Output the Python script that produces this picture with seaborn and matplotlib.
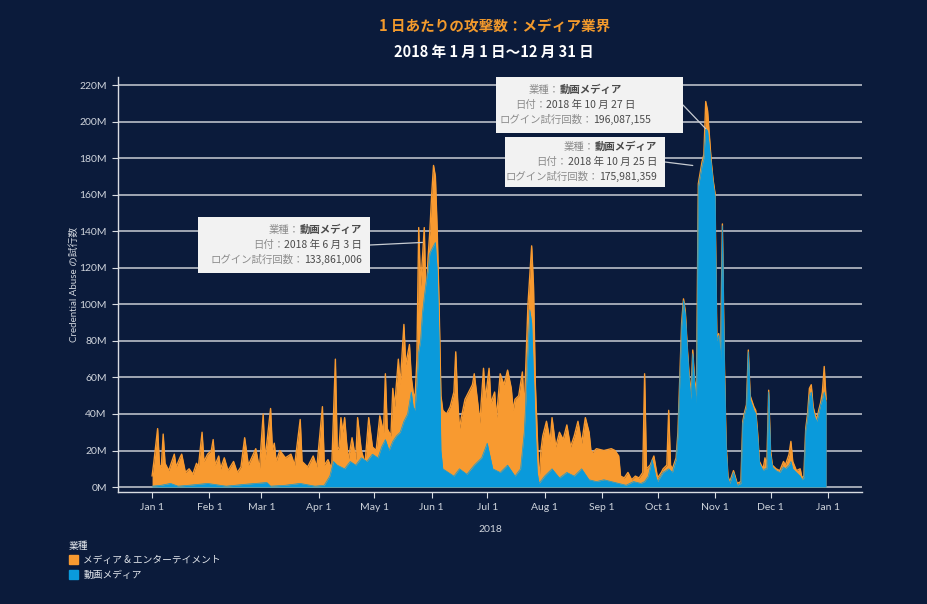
import numpy as np
import pandas as pd
import matplotlib
matplotlib.use('Agg')
import matplotlib.pyplot as plt
import matplotlib.dates as mdates
import matplotlib.ticker as mticker
from matplotlib.patches import Patch, Rectangle
from matplotlib.offsetbox import TextArea, HPacker, VPacker, AnnotationBbox
import seaborn as sns

# --- textos ---
title = '1 日あたりの攻撃数：メディア業界'
subtitle = '2018 年 1 月 1 日～12 月 31 日'
series_names = ['メディア & エンターテイメント', '動画メディア']
legend_title = '業種'
ylabel = 'Credential Abuse の試行数'
xlabel = '2018'

# --- datos (dia del año desde 2018-01-01, millones de intentos) ---
media_day = [0, 1, 3, 4, 5, 6, 7, 9, 10, 12, 13, 15, 16, 18, 20, 22, 24, 25, 27, 28,
             30, 32, 33, 34, 36, 37, 39, 41, 44, 46, 48, 50, 52, 56, 58, 60, 61, 64, 65, 66,
             67, 69, 72, 75, 77, 80, 81, 84, 87, 89, 92, 93, 95, 97, 99, 100, 101, 102, 103, 104,
             105, 106, 108, 110, 111, 113, 115, 117, 119, 121, 123, 125, 126, 127, 129, 130, 131, 133, 134, 136,
             137, 139, 140, 141, 142, 143, 144, 145, 146, 147, 148, 149, 150, 151, 152, 153, 154, 155, 156, 157,
             159, 161, 163, 164, 165, 166, 167, 169, 171, 173, 174, 176, 177, 179, 180, 182, 183, 185, 186, 188,
             190, 192, 194, 195, 196, 198, 200, 201, 203, 205, 206, 207, 208, 209, 210, 211, 213, 215, 216, 218,
             220, 222, 224, 226, 228, 230, 232, 234, 236, 237, 238, 240, 244, 248, 250, 252, 253, 255, 257, 259,
             261, 263, 265, 266, 267, 269, 271, 273, 275, 276, 278, 279, 280, 281, 283, 284, 285, 286, 287, 288,
             289, 290, 291, 292, 293, 294, 295, 296, 297, 298, 299, 300, 301, 302, 303, 304, 305, 306, 307, 308,
             309, 310, 311, 312, 314, 316, 318, 319, 320, 321, 322, 323, 325, 326, 327, 328, 330, 331, 332, 333,
             334, 335, 337, 339, 341, 342, 344, 345, 346, 348, 350, 351, 352, 353, 354, 355, 356, 357, 358, 359,
             360, 361, 362, 363, 364]
media_val = [6, 14, 32, 12, 11, 29, 13, 9, 12, 18, 11, 16, 18, 8, 10, 7, 13, 11, 30, 14,
             18, 20, 26, 12, 17, 10, 16, 9, 14, 8, 11, 27, 12, 21, 10, 40, 15, 43, 20, 24,
             14, 20, 16, 18, 12, 37, 14, 11, 17, 11, 44, 12, 15, 10, 70, 20, 22, 38, 30, 38,
             25, 15, 27, 15, 38, 20, 13, 38, 22, 20, 39, 30, 62, 32, 28, 54, 44, 70, 56, 89,
             67, 78, 60, 52, 48, 70, 142, 110, 125, 142, 100, 125, 140, 160, 176, 170, 140, 100, 50, 42,
             40, 44, 52, 74, 48, 32, 38, 48, 52, 56, 62, 45, 35, 65, 48, 65, 46, 52, 38, 62,
             56, 64, 54, 42, 48, 50, 63, 42, 100, 132, 110, 56, 30, 3, 20, 28, 36, 25, 38, 22,
             30, 26, 34, 22, 28, 36, 24, 38, 30, 20, 19, 21, 20, 21, 20, 17, 6, 5, 8, 4,
             6, 5, 8, 62, 10, 12, 17, 5, 8, 10, 12, 42, 12, 10, 16, 30, 60, 90, 103, 96,
             77, 62, 50, 75, 58, 52, 166, 172, 178, 182, 211, 206, 192, 178, 168, 161, 82, 84, 72, 144,
             72, 24, 6, 3, 9, 2, 3, 36, 41, 45, 75, 50, 44, 42, 30, 14, 10, 16, 12, 53,
             20, 12, 10, 9, 14, 12, 18, 25, 14, 9, 10, 5, 6, 32, 40, 54, 56, 44, 40, 37,
             42, 46, 52, 66, 48]

video_day = [0, 5, 10, 14, 20, 30, 40, 50, 62, 64, 72, 80, 88, 93, 96, 98, 100, 104, 107, 110,
             113, 116, 119, 122, 124, 126, 128, 130, 132, 134, 136, 138, 140, 141, 142, 143, 144, 145, 146, 147,
             148, 149, 150, 151, 152, 153, 154, 155, 156, 157, 160, 163, 166, 170, 174, 178, 181, 184, 188, 192,
             196, 199, 201, 202, 203, 204, 205, 206, 207, 208, 209, 212, 216, 220, 224, 228, 232, 236, 240, 244,
             248, 252, 256, 260, 264, 266, 268, 270, 272, 273, 276, 279, 281, 283, 284, 285, 286, 287, 288, 289,
             290, 291, 292, 293, 294, 295, 296, 297, 298, 299, 300, 301, 302, 303, 304, 305, 306, 307, 308, 309,
             310, 311, 312, 314, 316, 318, 319, 320, 321, 322, 323, 325, 326, 327, 328, 330, 331, 332, 333, 334,
             335, 337, 339, 341, 342, 344, 345, 346, 348, 350, 351, 352, 353, 354, 355, 356, 357, 358, 359, 360,
             361, 362, 363, 364]
video_val = [0.5, 1, 2, 0.5, 1, 2, 0.5, 1.5, 2.5, 0.5, 1, 2, 0.5, 1, 6, 14, 12, 10, 14, 12,
             16, 14, 18, 16, 22, 26, 20, 25, 28, 30, 36, 40, 52, 44, 42, 56, 74, 80, 95, 104,
             112, 118, 128, 130, 132, 133.86, 118, 80, 20, 10, 8, 6, 10, 7, 12, 16, 24, 10, 8, 12,
             6, 10, 30, 50, 75, 97, 90, 60, 30, 8, 2, 6, 10, 5, 8, 6, 10, 4, 3, 4,
             3, 2, 1, 3, 2, 3, 6, 15, 6, 3, 8, 10, 8, 15, 28, 58, 88, 102, 94, 76,
             60, 48, 73, 56, 46, 164, 170, 175.98, 180, 196.09, 195, 186, 176, 166, 159, 80, 83, 70, 143, 70,
             22, 5, 2, 8, 1, 2, 35, 40, 44, 74, 48, 42, 40, 28, 13, 9, 10, 10, 52, 18,
             11, 9, 8, 11, 10, 12, 14, 10, 8, 6, 4, 5, 31, 38, 50, 52, 42, 38, 36, 40,
             45, 48, 52, 46]

# --- anotaciones ---
callouts = [
    ('2018 年 6 月 3 日', '133,861,006', 146, 133.861006, 'right'),
    ('2018 年 10 月 27 日', '196,087,155', 299, 196.087155, 'center'),
    ('2018 年 10 月 25 日', '175,981,359', 292, 175.981359, 'right'),
]

ORANGE = '#F89A30'
BLUE = '#0A9ADB'
BG = '#0B1B3B'
GRID = '#c9cdd4'
TXT = '#cfd4dc'

W, H = 928, 604
base = pd.Timestamp('2018-01-01')


def to_df(days, vals):
    return pd.DataFrame({'date': base + pd.to_timedelta(days, unit='D'),
                         'attempts': np.array(vals, dtype=float) * 1e6})


def fx(x):
    return x / W


def fy(y):
    return 1 - y / H


media = to_df(media_day, media_val)
video = to_df(video_day, video_val)

sns.set_theme(style='dark', rc={'figure.facecolor': BG, 'axes.facecolor': BG})
plt.rcParams['font.family'] = ['Lato', 'Noto Sans CJK JP', 'DejaVu Sans']
jp = ['Noto Sans CJK JP', 'DejaVu Sans']

fig = plt.figure(figsize=(W / 100, H / 100), dpi=100)
ax = fig.add_axes([fx(118), fy(492), fx(862) - fx(118), fy(77) - fy(492)])

# areas (no apiladas: el total va detras)
ax.fill_between(media['date'], 0, media['attempts'], color=ORANGE, lw=0, zorder=2)
sns.lineplot(data=media, x='date', y='attempts', color=ORANGE, lw=1.0, ax=ax, zorder=2)
ax.fill_between(video['date'], 0, video['attempts'], color=BLUE, lw=0, zorder=3)
sns.lineplot(data=video, x='date', y='attempts', color=BLUE, lw=0.5, ax=ax, zorder=3)

ax.set_xlim(base - pd.Timedelta(days=18.4), base + pd.Timedelta(days=383.4))
ax.set_ylim(-2.7e6, 224.4e6)

ax.xaxis.set_major_locator(mdates.MonthLocator())
ax.xaxis.set_major_formatter(mticker.FuncFormatter(
    lambda v, p: mdates.num2date(v).strftime('%b ') + str(mdates.num2date(v).day)))
ax.yaxis.set_major_locator(mticker.MultipleLocator(20e6))
ax.yaxis.set_major_formatter(mticker.FuncFormatter(lambda v, p: f'{v / 1e6:.0f}M'))

ax.set_axisbelow(True)
ax.yaxis.grid(True, color=GRID, lw=1.1)
ax.xaxis.grid(False)
for s in ['top', 'right']:
    ax.spines[s].set_visible(False)
for s in ['left', 'bottom']:
    ax.spines[s].set_visible(True)
    ax.spines[s].set_color('#d8dce2')
    ax.spines[s].set_linewidth(1.0)
ax.tick_params(axis='both', colors='#d8dce2', labelcolor=TXT, labelsize=7.5,
               length=4, width=0.8, bottom=True, left=True, pad=4)

ax.set_ylabel(ylabel, color=TXT, fontsize=7, family=['Lato', 'Noto Sans CJK JP'])
ax.yaxis.set_label_coords(-0.053, 0.5)
ax.set_xlabel(xlabel, color=TXT, fontsize=7.5)
ax.xaxis.set_label_coords(0.5, -0.08)

fig.text(fx(495), fy(27), title, ha='center', va='center', color='#F39A2C',
         fontsize=10.5, fontweight='bold', family=jp)
fig.text(fx(494), fy(52), subtitle, ha='center', va='center', color='white',
         fontsize=10.5, fontweight='bold', family=jp)

# leyenda
leg = fig.legend(handles=[Patch(color=ORANGE), Patch(color=BLUE)], labels=series_names,
                 title=legend_title, loc='upper left', bbox_to_anchor=(fx(60), fy(532)),
                 frameon=False, fontsize=7, title_fontsize=7, handlelength=1.0, handleheight=1.0,
                 handletextpad=0.5, labelspacing=0.45, alignment='left', labelcolor='#e2e6ec',
                 prop={'family': jp, 'size': 7})
leg.get_title().set_color('#e2e6ec')
leg.get_title().set_family(jp)

# cuadros de anotacion (x0, y0, x1, y1 en pixeles, punto de anclaje del texto)
boxes = [((198, 217, 370, 273), (362, 245)),
         ((496, 77, 683, 133), (575, 105)),
         ((505, 137, 665, 187), (657, 162))]

lab_props = dict(color='#8c8c8c', fontsize=7.5, family=jp)
val_props = dict(color='#4a4a4a', fontsize=7.5, family=jp)
for (date_txt, count_txt, day, val, align), ((x0, y0, x1, y1), (tx, ty)) in zip(callouts, boxes):
    ax.add_patch(Rectangle((fx(x0), fy(y1)), fx(x1) - fx(x0), fy(y0) - fy(y1),
                           transform=fig.transFigure, facecolor='#f2f2f2', edgecolor='none',
                           zorder=6, clip_on=False))
    ax.annotate('', xy=(base + pd.Timedelta(days=day), val * 1e6), xycoords='data',
                xytext=(fx(x1), fy((y0 + y1) / 2)), textcoords='figure fraction',
                arrowprops=dict(arrowstyle='-', color='#c8ccd2', lw=0.9, shrinkA=0, shrinkB=0),
                annotation_clip=False, zorder=5)
    rows = []
    for lab, v, bold in [('業種：', '動画メディア', True), ('日付：', date_txt, False),
                         ('ログイン試行回数：', count_txt, False)]:
        vp = dict(val_props, fontweight='bold' if bold else 'normal')
        rows.append(HPacker(children=[TextArea(lab, textprops=lab_props),
                                      TextArea(v, textprops=vp)], pad=0, sep=0, align='baseline'))
    pack = VPacker(children=rows, align=align, pad=0, sep=3.5)
    ab = AnnotationBbox(pack, (fx(tx), fy(ty)), xycoords='figure fraction',
                        box_alignment=(1 if align == 'right' else 0.5, 0.5), frameon=False,
                        zorder=7, annotation_clip=False)
    ax.add_artist(ab)

fig.savefig('out.png', dpi=100, facecolor=BG)
